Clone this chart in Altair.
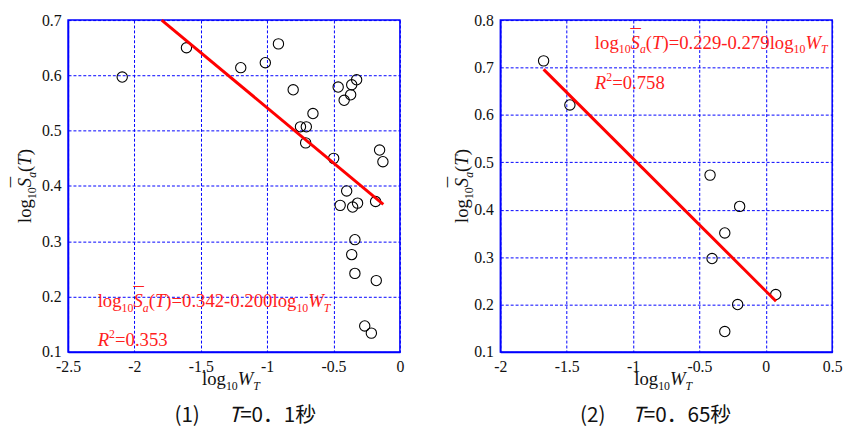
import altair as alt
import pandas as pd

# ---------------- data ----------------
# Panel (1) T=0.1s
x1 = [-2.092, -1.608, -1.199, -1.014, -0.915, -0.804, -0.749, -0.705, -0.710, -0.655,
      -0.499, -0.465, -0.420, -0.371, -0.363, -0.326, -0.153, -0.128, -0.401, -0.450,
      -0.356, -0.319, -0.183, -0.339, -0.363, -0.339, -0.178, -0.265, -0.215]
y1 = [0.597, 0.650, 0.614, 0.623, 0.657, 0.574, 0.507, 0.507, 0.478, 0.531,
      0.450, 0.579, 0.555, 0.565, 0.583, 0.592, 0.465, 0.444, 0.391, 0.365,
      0.362, 0.369, 0.372, 0.303, 0.276, 0.242, 0.229, 0.147, 0.134]
line1_x = [-1.795, -0.125]
line1_y = [0.700, 0.367]

# Panel (2) T=0.65s
x2 = [-1.674, -1.476, -0.420, -0.197, -0.309, -0.405, 0.075, -0.212, -0.309]
y2 = [0.714, 0.621, 0.473, 0.407, 0.351, 0.297, 0.221, 0.200, 0.143]
line2_x = [-1.674, 0.077]
line2_y = [0.696, 0.207]

x1_ticks = [-2.5, -2, -1.5, -1, -0.5, 0]
y1_ticks = [0.1, 0.2, 0.3, 0.4, 0.5, 0.6, 0.7]
x2_ticks = [-2, -1.5, -1, -0.5, 0, 0.5]
y2_ticks = [0.1, 0.2, 0.3, 0.4, 0.5, 0.6, 0.7, 0.8]

eq1 = ("0.342", "0.200")
r2_1 = "0.353"
eq2 = ("0.229", "0.279")
r2_2 = "0.758"
cap1 = ("(1)", "T", "=0．1秒")
cap2 = ("(2)", "T", "=0．65秒")

SERIF = "Liberation Serif, Times New Roman, DejaVu Serif, serif"
CJK = "Noto Sans CJK JP"
W = 337
H = 337

# Times metrics (per 1000 em) for laying out rich text pieces
W_REG = {**{d: 500 for d in "0123456789"}, ".": 250, "-": 333, "=": 564, "(": 333, ")": 333,
         "l": 278, "o": 500, "g": 500, "¯": 333}
W_ITA = {"S": 500, "a": 500, "T": 556, "W": 833, "R": 611}
W_CJK = {**{d: 555 for d in "0123456789"}, "(": 333, ")": 333, "．": 1000, "=": 555,
         "秒": 1000, "T": 560}


def text_width(t, size, italic, table=None):
    if table is None:
        table = W_ITA if italic else W_REG
    return sum(table.get(c, 500) for c in t) * size / 1000.0


def rich(pieces, xenc, yenc, color, data=None, font=SERIF, angle=0, table=None):
    """pieces: list of (text, size, italic, shift[, advance]); shift = baseline shift in px."""
    layers = []
    off = 0.0
    for (t, size, italic, shift, *extra) in pieces:
        advance = extra[0] if extra else True
        kw = dict(align="left", baseline="alphabetic", dx=off, dy=shift, fontSize=size,
                  font=font, color=color)
        if italic:
            kw["fontStyle"] = "italic"
        if angle:
            kw["angle"] = angle
        d = {"t": [t]}
        if data is not None:
            d.update({k: [v] for k, v in data.items()})
        layers.append(
            alt.Chart(pd.DataFrame(d)).mark_text(**kw).encode(x=xenc, y=yenc, text="t:N")
        )
        if advance:
            off += text_width(t, size, italic, table)
    return layers


BIG = 19
SUB = 12


def sa_pieces(size=BIG, sub=SUB):
    return [("log", size, False, 0), ("10", sub, False, 5),
            ("¯", size + 2, False, -5, False), ("S", size, True, 0),
            ("a", sub, True, 5), ("(", size, False, 0), ("T", size, True, 0),
            (")", size, False, 0)]


def panel(xs, ys, lx, ly, xdom, ydom, xt, yt, eq, r2, eq_at, r2_at, cap, cap_x, cap_t, ytitle_x):
    xs_ = alt.Scale(domain=xdom, nice=False, zero=False)
    ys_ = alt.Scale(domain=ydom, nice=False, zero=False)
    xax = alt.Axis(values=xt, labelExpr="'' + datum.value", title=None, labelFlush=False)
    yax = alt.Axis(values=yt, labelExpr="'' + datum.value", title=None, labelFlush=False)
    X = alt.X("x:Q", scale=xs_, axis=xax)
    Y = alt.Y("y:Q", scale=ys_, axis=yax)

    pts = alt.Chart(pd.DataFrame({"x": xs, "y": ys})).mark_point(
        shape="circle", filled=False, color="black", size=110, strokeWidth=1.1, opacity=1
    ).encode(x=X, y=Y)

    line = alt.Chart(pd.DataFrame({"x": lx, "y": ly})).mark_line(
        color="#ff0000", strokeWidth=3
    ).encode(x=X, y=Y)

    red = "#ff2020"
    eq_pieces = sa_pieces() + [
        ("=" + eq[0] + "-" + eq[1], BIG, False, 0), ("log", BIG, False, 0), ("10", SUB, False, 5),
        ("W", BIG, True, 0), ("T", SUB, True, 5)]
    eq_layers = rich(eq_pieces, X, Y, red, data={"x": eq_at[0], "y": eq_at[1]})
    r2_layers = rich([("R", BIG, True, 0), ("2", SUB, False, -8), ("=" + r2, BIG, False, 0)],
                     X, Y, red, data={"x": r2_at[0], "y": r2_at[1]})

    xtitle = rich([("log", BIG, False, 0), ("10", SUB, False, 5), ("W", BIG, True, 0),
                   ("T", SUB, True, 5)], alt.value(136), alt.value(371), "#111111")
    ytitle = rich(sa_pieces(), alt.value(ytitle_x), alt.value(206), "#111111", angle=270)

    caption = rich([(cap[0], 21, False, 0, False)], alt.value(cap_x), alt.value(408), "#111111",
                   font=CJK, table=W_CJK) + \
        rich([(cap[1], 21, True, 0), (cap[2], 21, False, 0)], alt.value(cap_t), alt.value(408),
             "#111111", font=CJK, table=W_CJK)

    return alt.layer(pts, line, *eq_layers, *r2_layers, *xtitle, *ytitle, *caption).properties(
        width=W, height=H)


left = panel(x1, y1, line1_x, line1_y, [-2.5, 0], [0.1, 0.7], x1_ticks, y1_ticks,
             eq1, r2_1, (-2.277, 0.182), (-2.277, 0.111), cap1, 108, 163, -38)
right = panel(x2, y2, line2_x, line2_y, [-2, 0.5], [0.1, 0.8], x2_ticks, y2_ticks,
              eq2, r2_2, (-1.288, 0.740), (-1.288, 0.655), cap2, 81, 134, -33)

chart = alt.hconcat(left, right, spacing=41).properties(
    padding={"left": 0, "top": 0, "right": 0, "bottom": 0}
).configure_view(
    stroke="#0000ff", strokeWidth=1.5
).configure_axis(
    grid=True, gridColor="#0000ff", gridDash=[3, 2], gridWidth=1, gridOpacity=1,
    domain=True, domainColor="#0000ff", domainWidth=1.5,
    ticks=False, labelFont=SERIF, labelFontSize=16, labelColor="#111111", labelPadding=7,
    labelFlush=False,
)

chart.save("out.html", embed_options={"renderer": "svg", "actions": False})
